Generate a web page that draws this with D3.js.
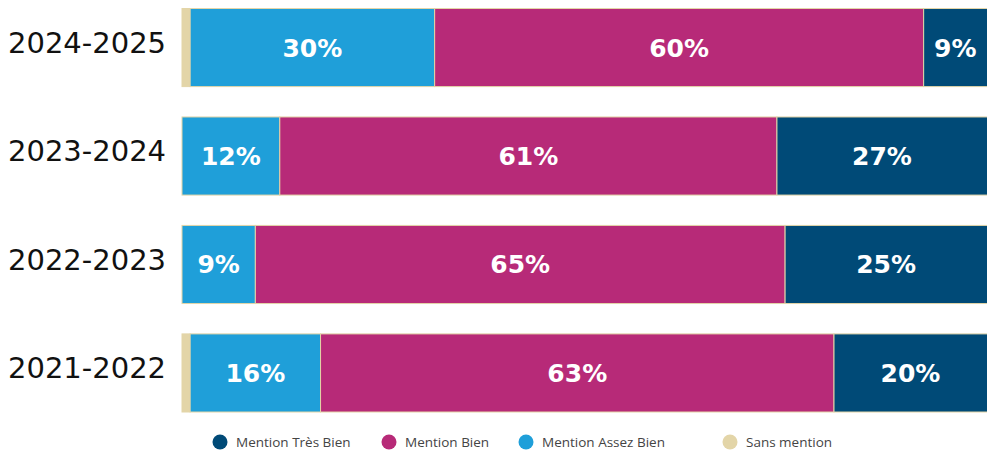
<!DOCTYPE html>
<html>
<head>
<meta charset="utf-8">
<script src="https://cdn.jsdelivr.net/npm/d3@7"></script>
<style>
  body { margin: 0; background: #fff; }
  svg { display: block; }
</style>
</head>
<body>
<script>
var WIDTH = 987,
	HEIGHT = 450

var years = ['2024-2025', '2023-2024', '2022-2023', '2021-2022']
var sansMention = [1, 0, 0, 1]
var assezBien = [30, 12, 9, 16]
var bien = [60, 61, 65, 63]
var tresBien = [9, 27, 25, 20]

var seriesNames = ['Sans mention', 'Mention Assez Bien', 'Mention Bien', 'Mention Très Bien']
var seriesValues = [sansMention, assezBien, bien, tresBien]
var colors = ['#e3d5a8', '#1f9fd9', '#b72a78', '#004a77']
var legendOrder = ['Mention Très Bien', 'Mention Bien', 'Mention Assez Bien', 'Sans mention']

var svg = d3.select('body').append('svg')
	.attr('width', WIDTH)
	.attr('height', HEIGHT)

var x = d3.scaleLinear().domain([0, 100]).range([182, 997])
var y = d3.scaleBand().domain(years).range([8.5, 412]).paddingInner(0.28)

// build stacked rows
var rows = years.map(function(yr, i){
	var obj = { year: yr }
	seriesNames.forEach(function(s, j){ obj[s] = seriesValues[j][i] })
	return obj
})
var stack = d3.stack().keys(seriesNames)(rows)

var layers = svg.append('g').selectAll('g').data(stack)
	.enter().append('g')
	.attr('fill', function(d, i){ return colors[i] })

layers.selectAll('rect').data(function(d){ return d })
	.enter().append('rect')
	.attr('x', function(d){ return x(d[0]) })
	.attr('width', function(d){ return x(d[1]) - x(d[0]) })
	.attr('y', function(d){ return y(d.data.year) })
	.attr('height', y.bandwidth())
	.attr('stroke', '#e3d5a8')
	.attr('stroke-width', 1)

// value labels (skip Sans mention)
stack.forEach(function(layer, i){
	if (i === 0) return
	svg.append('g').selectAll('text').data(layer)
		.enter().append('text')
		.attr('x', function(d){ return (x(d[0]) + Math.min(x(d[1]), WIDTH)) / 2 })
		.attr('y', function(d){ return y(d.data.year) + y.bandwidth() / 2 })
		.attr('dy', '0.36em')
		.attr('text-anchor', 'middle')
		.style('font-family', 'DejaVu Sans, sans-serif')
		.style('font-weight', 'bold')
		.style('font-size', '25px')
		.style('fill', '#fff')
		.text(function(d){ return (d[1] - d[0]) + '%' })
})

// year labels
svg.append('g').selectAll('text').data(years)
	.enter().append('text')
	.attr('x', 8)
	.attr('y', function(d){ return y(d) + y.bandwidth() / 2 - 5 })
	.attr('dy', '0.36em')
	.style('font-family', 'DejaVu Sans, sans-serif')
	.style('font-size', '29px')
	.style('fill', '#111')
	.text(function(d){ return d })

// legend
var legendX = [220, 389, 526, 730]
var legend = svg.append('g').selectAll('g').data(legendOrder)
	.enter().append('g')
	.attr('transform', function(d, i){ return 'translate(' + legendX[i] + ',442)' })

legend.append('circle')
	.attr('r', 7.5)
	.attr('fill', function(d){ return colors[seriesNames.indexOf(d)] })

legend.append('text')
	.attr('x', 16)
	.attr('dy', '0.35em')
	.style('font-family', 'Open Sans, sans-serif')
	.style('font-size', '13.5px')
	.style('fill', '#444')
	.text(function(d){ return d })
</script>
</body>
</html>
